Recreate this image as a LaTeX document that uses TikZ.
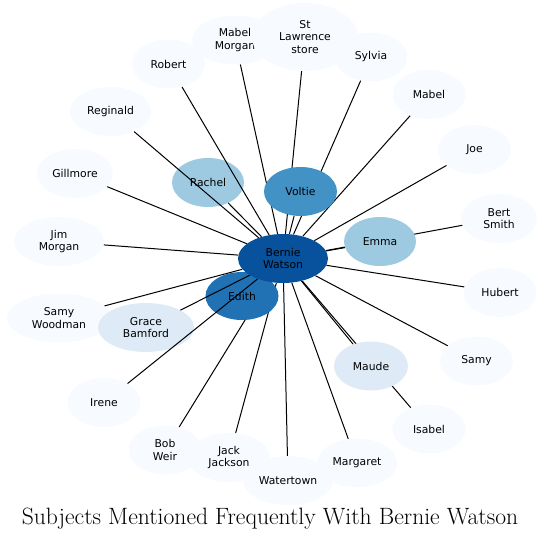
\documentclass[tikz,border=0pt]{standalone}
\usepackage{fontspec}
\usepackage{xcolor}
\usepackage{tikz}
\usetikzlibrary{shapes.geometric}
\newfontfamily\nodefont{DejaVu Sans}
\definecolor{bpale}{HTML}{F7FBFF}
\definecolor{blight}{HTML}{DEEBF7}
\definecolor{bmid}{HTML}{9ECAE1}
\definecolor{bmed}{HTML}{4292C6}
\definecolor{bdeep}{HTML}{2171B5}
\definecolor{bdark}{HTML}{08519C}
\pgfdeclarelayer{under}
\pgfdeclarelayer{over}
\pgfsetlayers{under,main,over}
\tikzset{
  nd/.style={ellipse,fill=#1,inner sep=0pt,minimum width=73pt,minimum height=49pt,
    align=center,font=\nodefont\fontsize{10.8}{12.3}\selectfont},
  ln/.style={black,line width=1pt}
}
\begin{document}
\begin{tikzpicture}[x=1pt,y=-1pt]
\useasboundingbox (0,0) rectangle (542,541);
% outer ring, drawn first
\node[nd=bpale,minimum width=86pt] (mm) at (235,40) {Mabel\\Morgan};
\node[nd=bpale,minimum width=106pt,minimum height=68pt] (sl) at (305,37) {St\\Lawrence\\store};
\node[nd=bpale] (sy) at (371,57) {Sylvia};
\node[nd=bpale] (mb) at (429,94.5) {Mabel};
\node[nd=bpale] (jo) at (474.5,149.5) {Joe};
\node[nd=bpale,minimum width=76pt] (bs) at (499,218.5) {Bert\\Smith};
\node[nd=bpale] (hu) at (500,292.5) {Hubert};
\node[nd=bpale] (sa) at (476.5,361) {Samy};
\node[nd=bpale] (is) at (429,429) {Isabel};
\node[nd=bpale] (ro) at (168.5,64) {Robert};
\node[nd=bpale,minimum width=81pt] (re) at (110.5,111.5) {Reginald};
\node[nd=bpale,minimum width=76pt] (gi) at (75,173.5) {Gillmore};
\node[nd=bpale,minimum width=90pt] (jm) at (59,241.5) {Jim\\Morgan};
\node[nd=bpale,minimum width=104pt] (sw) at (59,318) {Samy\\Woodman};
\node[nd=blight,minimum width=96pt] (gb) at (146,327.5) {Grace\\Bamford};
\node[nd=bpale] (ir) at (104,402.5) {Irene};
\node[nd=bpale] (bo) at (165,450) {Bob\\Weir};
\node[nd=bpale,minimum width=82pt] (jj) at (229,457.5) {Jack\\Jackson};
\node[nd=bpale,minimum width=90pt] (wt) at (288,480.5) {Watertown};
\node[nd=bpale,minimum width=80pt] (mg) at (357,463) {Margaret};
\node[nd=bmid,minimum width=72pt] (ra) at (208,182.5) {Rachel};
\node[nd=bdeep,minimum height=48pt] (ed) at (242,296) {Edith};
% inner nodes on top of the lines
\begin{pgfonlayer}{over}
\node[nd=bmed] (vo) at (300.5,191.5) {Voltie};
\node[nd=bmid,minimum width=72pt] (em) at (380,241.5) {Emma};
\node[nd=blight,minimum width=74pt] (ma) at (371,366) {Maude};
\node[nd=bdark,minimum width=90pt] (bw) at (283,258.5) {Bernie\\Watson};
\end{pgfonlayer}
% lines
\begin{pgfonlayer}{under}
\draw[ln] (bw) -- (bo);
\draw[ln] (bw) -- (jj);
\end{pgfonlayer}
\foreach \n in {mm,sl,sy,mb,jo,bs,hu,sa,is,ro,re,gi,jm,sw,gb,ir,wt,mg,ra,vo,em,ma}
  \draw[ln] (bw) -- (\n);
% caption
\node[font=\fontsize{23.6}{26}\selectfont] (cap) at (270,519) {Subjects Mentioned Frequently With Bernie Watson};
\end{tikzpicture}
\end{document}
